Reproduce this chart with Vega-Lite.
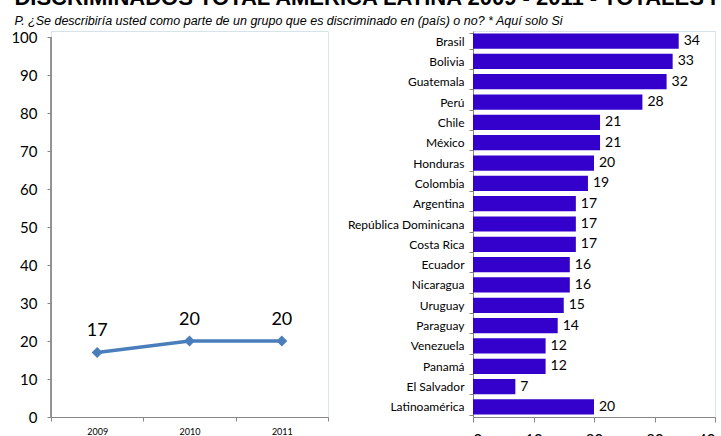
{
  "$schema": "https://vega.github.io/schema/vega-lite/v6.json",
  "padding": {"left": 10, "top": -13, "right": 8, "bottom": 0},
  "background": "white",
  "title": {
    "text": "DISCRIMINADOS   TOTAL AMÉRICA LATINA 2009 - 2011 - TOTALES POR PAÍS 2011",
    "subtitle": "P. ¿Se describiría usted como parte de un grupo que es discriminado en (país) o no? * Aquí solo   Si",
    "anchor": "start",
    "dx": 4,
    "font": "Liberation Sans",
    "fontSize": 22,
    "fontWeight": "bold",
    "color": "black",
    "subtitleFont": "Liberation Sans",
    "subtitleFontStyle": "italic",
    "subtitleFontSize": 12.5,
    "subtitleColor": "black",
    "subtitlePadding": 5,
    "offset": -4
  },
  "config": {
    "font": "Lato",
    "view": {"stroke": "#d6e3ea", "strokeWidth": 1},
    "axis": {"labelColor": "black", "domainColor": "#868686", "tickColor": "#868686", "labelFont": "Lato"}
  },
  "spacing": 17,
  "hconcat": [
    {
      "width": 277,
      "height": 386,
      "data": {"values": [
        {"year": "2009", "value": 17},
        {"year": "2010", "value": 20},
        {"year": "2011", "value": 20}
      ]},
      "encoding": {
        "x": {
          "field": "year", "type": "ordinal", "bandPosition": 0.5,
          "scale": {"type": "band", "paddingInner": 0, "paddingOuter": 0},
          "axis": {"title": null, "labelAngle": 0, "labelFontSize": 9, "tickSize": 4, "labelPadding": 6, "tickBand": "extent"}
        },
        "y": {
          "field": "value", "type": "quantitative",
          "scale": {"domain": [0, 100], "range": [386, 6]},
          "axis": {"title": null, "grid": false, "domain": false, "values": [0, 10, 20, 30, 40, 50, 60, 70, 80, 90, 100], "labelFontSize": 15, "tickSize": 4, "labelPadding": 10}
        }
      },
      "layer": [
        {"mark": {"type": "rule", "color": "#868686", "strokeWidth": 1}, "encoding": {"x": {"value": 0}, "y": {"datum": 0}, "y2": {"datum": 100}}},
        {"mark": {"type": "line", "color": "#4a7ebb", "strokeWidth": 3.5}},
        {"mark": {"type": "point", "shape": "diamond", "filled": true, "size": 120, "color": "#4a7ebb", "opacity": 1}},
        {"mark": {"type": "text", "dy": -21, "fontSize": 18, "color": "black"}, "encoding": {"text": {"field": "value", "type": "quantitative"}}}
      ]
    },
    {
      "width": 242,
      "height": 386,
      "data": {"values": [
        {"country": "Brasil", "value": 34},
        {"country": "Bolivia", "value": 33},
        {"country": "Guatemala", "value": 32},
        {"country": "Perú", "value": 28},
        {"country": "Chile", "value": 21},
        {"country": "México", "value": 21},
        {"country": "Honduras", "value": 20},
        {"country": "Colombia", "value": 19},
        {"country": "Argentina", "value": 17},
        {"country": "República Dominicana", "value": 17},
        {"country": "Costa Rica", "value": 17},
        {"country": "Ecuador", "value": 16},
        {"country": "Nicaragua", "value": 16},
        {"country": "Uruguay", "value": 15},
        {"country": "Paraguay", "value": 14},
        {"country": "Venezuela", "value": 12},
        {"country": "Panamá", "value": 12},
        {"country": "El Salvador", "value": 7},
        {"country": "Latinoamérica", "value": 20}
      ]},
      "encoding": {
        "y": {
          "field": "country", "type": "nominal", "sort": null,
          "scale": {"paddingInner": 0.25, "paddingOuter": 0.12},
          "axis": {"title": null, "labelFontSize": 12, "tickBand": "extent", "tickSize": 4, "labelPadding": 5}
        },
        "x": {
          "field": "value", "type": "quantitative",
          "scale": {"domain": [0, 40]},
          "axis": {"title": null, "grid": false, "values": [0, 10, 20, 30, 40], "labelFontSize": 15, "tickSize": 5, "labelPadding": 10}
        }
      },
      "layer": [
        {"mark": {"type": "bar", "color": "#3300cc"}},
        {"mark": {"type": "text", "align": "left", "dx": 5, "fontSize": 14, "color": "black"}, "encoding": {"text": {"field": "value", "type": "quantitative"}}}
      ]
    }
  ]
}
